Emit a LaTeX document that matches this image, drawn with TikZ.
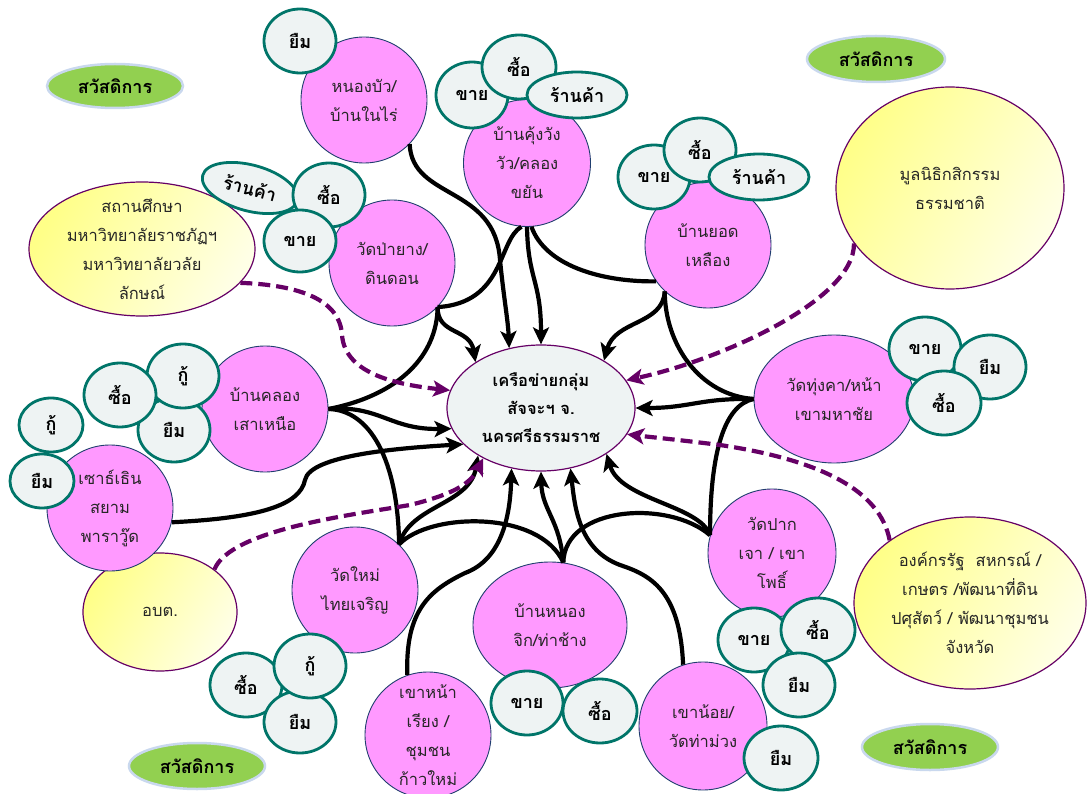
\documentclass[tikz,border=0pt]{standalone}
\usepackage{fontspec}
\setmainfont{Loma}[Script=Thai]
\usetikzlibrary{shapes.geometric,arrows.meta}
\definecolor{pinkf}{HTML}{FF99FF}
\definecolor{pinkd}{HTML}{1F3E6E}
\definecolor{grayf}{HTML}{EEF3F3}
\definecolor{tealb}{HTML}{007569}
\definecolor{greenf}{HTML}{92D050}
\definecolor{greenb}{HTML}{C9D8EE}
\definecolor{purp}{HTML}{660066}
\definecolor{yelA}{HTML}{FFFF88}
\definecolor{yelB}{HTML}{FFFFE6}
\definecolor{txt}{HTML}{262626}
\tikzset{
  base/.style={ellipse, inner sep=-12pt, align=center},
  sz/.style 2 args={minimum width=#1pt, minimum height=#2pt},
  village/.style={base, fill=pinkf, draw=pinkd, line width=0.9pt, text=txt,
    font=\fontsize{16.5}{29}\selectfont},
  act/.style={base, fill=grayf, draw=tealb, line width=2.8pt,
    font=\bfseries\fontsize{18}{20}\selectfont},
  partner/.style={base, draw=purp, line width=1.2pt, left color=yelA, right color=yelB,
    shading angle=60, text=txt, font=\fontsize{16.5}{29}\selectfont},
  welfare/.style={base, fill=greenf, draw=greenb, line width=2.5pt,
    font=\bfseries\fontsize{18}{20}\selectfont},
  hub/.style={base, fill=grayf, draw=purp, line width=1.2pt,
    font=\bfseries\fontsize{16.5}{28}\selectfont},
  link/.style={line width=4.2pt, black},
  alink/.style={link, -{Stealth[length=17pt,width=16pt,inset=4pt]}},
  dlink/.style={line width=4.2pt, purp, dash pattern=on 12pt off 6pt,
    -{Stealth[length=17pt,width=16pt,inset=4pt]}}
}
\begin{document}
\begin{tikzpicture}[x=1pt,y=-1pt]
\useasboundingbox (0,0) rectangle (1087,794);
\fill[white] (0,0) rectangle (1087,794);

% partners (yellow)
\node[partner, sz={226}{134}] (school) at (142,249) {สถานศึกษา\\มหาวิทยาลัยราชภัฏฯ\\มหาวิทยาลัยวลัย\\ลักษณ์};
\node[partner, sz={228}{202}] (fund) at (950,188) {มูลนิธิกสิกรรม\\ธรรมชาติ};
\node[partner, sz={154}{118}] (obt) at (160,612) {อบต.};
\node[partner, sz={232}{172}] (org) at (970,603) {องค์กรรัฐ\ \ สหกรณ์ /\\เกษตร /พัฒนาที่ดิน\\ปศุสัตว์ / พัฒนาชุมชน\\จังหวัด};

% welfare
\node[welfare, sz={136}{44}] (w1) at (115,86) {สวัสดิการ};
\node[welfare, sz={138}{46}] (w2) at (876,59) {สวัสดิการ};
\node[welfare, sz={136}{46}] (w3) at (197,766) {สวัสดิการ};
\node[welfare, sz={136}{46}] (w4) at (930,747) {สวัสดิการ};

% hub
\node[hub, sz={188}{126}] (net) at (541,408) {เครือข่ายกลุ่ม\\สัจจะฯ จ.\\นครศรีธรรมราช};

% villages
\node[village, sz={126}{126}] (nongbua) at (364,100) {หนองบัว/\\บ้านในไร่};
\node[village, sz={127}{127}] (kung) at (527,163) {บ้านคุ้งวัง\\วัว/คลอง\\ขยัน};
\node[village, sz={126}{126}] (pyang) at (392,263) {วัดป่ายาง/\\ดินดอน};
\node[village, sz={126}{126}] (yod) at (708,245) {บ้านยอด\\เหลือง};
\node[village, sz={160}{128}] (tung) at (834,399) {วัดทุ่งคา/หน้า\\เขามหาชัย};
\node[village, sz={126}{126}] (klong) at (265,409) {บ้านคลอง\\เสาเหนือ};
\node[village, sz={126}{126}] (south) at (110,508) {เซาธ์เธิน\\สยาม\\พาราวู๊ด};
\node[village, sz={126}{126}] (mai) at (355,590) {วัดใหม่\\ไทยเจริญ};
\node[village, sz={126}{126}] (khaonr) at (428,735) {เขาหน้า\\เรียง /\\ชุมชน\\ก้าวใหม่};
\node[village, sz={154}{126}] (nongjik) at (550,625) {บ้านหนอง\\จิก/ท่าช้าง};
\node[village, sz={128}{128}] (pakjao) at (772,553) {วัดปาก\\เจา / เขา\\โพธิ์};
\node[village, sz={128}{128}] (khaonoi) at (703,726) {เขาน้อย/\\วัดท่าม่วง};

% activities
\node[act, sz={72}{64}] (nbyuem) at (300,41) {ยืม};
\node[act, sz={72}{66}] (kgkhai) at (472,95) {ขาย};
\node[act, sz={74}{64}] (kgsue) at (519,67) {ซื้อ};
\node[act, sz={100}{46}] (kgshop) at (577,95) {ร้านค้า};
\node[act, sz={72}{64}] (ydkhai) at (654,177) {ขาย};
\node[act, sz={72}{64}] (ydsue) at (700,150) {ซื้อ};
\node[act, sz={100}{46}] (ydshop) at (759,177) {ร้านค้า};
\node[act, sz={98}{46}, rotate=-15] (pyshop) at (250,188) {ร้านค้า};
\node[act, sz={72}{64}] (pysue) at (329,195) {ซื้อ};
\node[act, sz={72}{62}] (pykhai) at (300,241) {ขาย};
\node[act, sz={72}{64}] (klyuem) at (174,430) {ยืม};
\node[act, sz={72}{64}] (klku) at (183,376) {กู้};
\node[act, sz={72}{64}] (klsue) at (120,395) {ซื้อ};
\node[act, sz={64}{54}] (soku) at (51,425) {กู้};
\node[act, sz={64}{54}] (soyuem) at (42,481) {ยืม};
\node[act, sz={72}{64}] (maisue) at (246,685) {ซื้อ};
\node[act, sz={72}{62}] (maiyuem) at (300,722) {ยืม};
\node[act, sz={72}{64}] (maiku) at (310,666) {กู้};
\node[act, sz={72}{64}] (njkhai) at (527,703) {ขาย};
\node[act, sz={74}{64}] (njsue) at (600,711) {ซื้อ};
\node[act, sz={74}{64}] (knyuem) at (781,758) {ยืม};
\node[act, sz={72}{64}] (pjkhai) at (754,640) {ขาย};
\node[act, sz={74}{64}] (pjsue) at (818,630) {ซื้อ};
\node[act, sz={72}{64}] (pjyuem) at (799,685) {ยืม};
\node[act, sz={72}{64}] (tkkhai) at (925,349) {ขาย};
\node[act, sz={72}{64}] (tkyuem) at (990,367) {ยืม};
\node[act, sz={74}{64}] (tksue) at (944,403) {ซื้อ};

% black connectors
\draw[link] (klong.0) .. controls (400,395) and (437,355) .. (pyang.-44);
\draw[alink] (pyang.-44) .. controls (437,335) and (470,328) .. (net.145);
\draw[link] (pyang.-44) .. controls (505,303) and (498,240) .. (kung.-95);
\draw[alink] (nongbua.-44) .. controls (412,200) and (495,185) .. (500,260)
   .. controls (504,300) and (508,320) .. (net.118);
\draw[alink] (kung.-90) .. controls (528,280) and (541,280) .. (net.90);
\draw[link] (kung.-86) .. controls (545,265) and (600,282) .. (yod.-145);
\draw[alink] (yod.-133) .. controls (663,325) and (615,320) .. (net.37);
\draw[link] (yod.-133) .. controls (665,345) and (700,395) .. (tung.180);
\draw[alink] (tung.180) .. controls (700,398) and (690,408) .. (net.0);
\draw[link] (tung.180) .. controls (725,405) and (710,450) .. (pakjao.164);
\draw[alink] (pakjao.164) .. controls (700,505) and (620,500) .. (net.-35);
\draw[link] (pakjao.164) .. controls (670,500) and (565,505) .. (nongjik.78);
\draw[alink] (nongjik.78) .. controls (560,520) and (542,510) .. (net.-90);
\draw[alink] (khaonoi.108) .. controls (680,590) and (650,575) .. (620,565)
   .. controls (580,550) and (575,510) .. (net.-64);
\draw[alink] (khaonr.109) .. controls (405,610) and (430,590) .. (465,573)
   .. controls (500,560) and (510,520) .. (net.-116);
\draw[link] (mai.46) .. controls (430,512) and (540,510) .. (nongjik.78);
\draw[alink] (mai.46) .. controls (410,505) and (470,505) .. (net.-143);
\draw[link] (klong.0) .. controls (370,410) and (398,460) .. (mai.46);
\draw[alink] (klong.0) .. controls (380,405) and (390,430) .. (net.-167);
\draw[alink] (south.-13) .. controls (260,518) and (300,505) .. (305,480)
   .. controls (310,455) and (400,448) .. (net.-155);

% purple dashed connectors
\draw[dlink] (school.-19) .. controls (300,285) and (340,300) .. (342,335)
   .. controls (345,375) and (400,385) .. (net.169);
\draw[dlink] (fund.-150) .. controls (855,300) and (720,360) .. (net.18);
\draw[dlink] (org.142) .. controls (880,490) and (820,460) .. (720,445)
   .. controls (680,440) and (650,437) .. (net.-17);
\draw[dlink] (obt.38) .. controls (230,530) and (350,515) .. (410,505)
   .. controls (450,495) and (470,485) .. (net.-139);
\end{tikzpicture}
\end{document}
